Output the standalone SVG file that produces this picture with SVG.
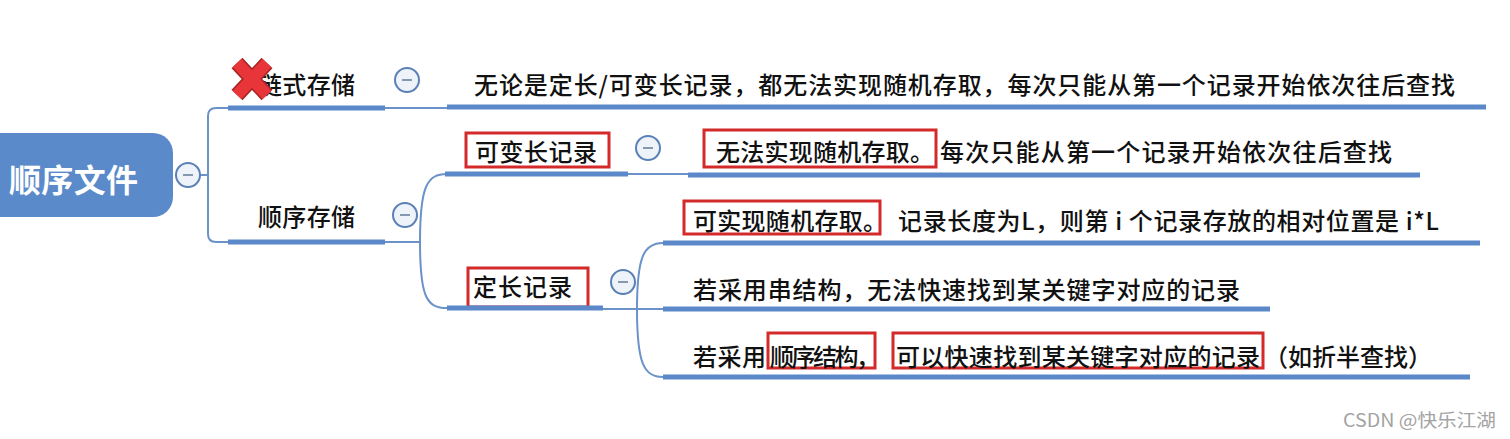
<svg xmlns="http://www.w3.org/2000/svg" width="1510" height="439" viewBox="0 0 1510 439">
<style>
  text { font-family: "Noto Sans CJK SC", "Noto Sans", sans-serif; fill: #111111; dominant-baseline: central; }
  .t24 { font-size: 24px; font-weight: 500; }
  .root-text { font-size: 32px; font-weight: bold; fill: #ffffff; }
  .bar { stroke: #5a88c8; stroke-width: 5; stroke-linecap: butt; fill: none; }
  .thin { stroke: #6b92c9; stroke-width: 2; fill: none; }
  .btn circle { fill: #eef3fa; stroke: #5b80b6; stroke-width: 2; }
  .btn line { stroke: #8797ad; stroke-width: 2; }
  .hl { fill: none; stroke: #d42a2a; stroke-width: 3; }
  .wm { font-size: 18px; fill: #a3a3a3; }
</style>
<rect width="1510" height="439" fill="#ffffff"/>

<g id="connectors">
  <path class="thin" d="M200,175 H208 M208,175 V116 Q208,108 216,108 H228 M208,175 V234 Q208,242 216,242 H228"/>
  <path class="thin" d="M385,108 H447"/>
  <path class="thin" d="M385,242 H420 M420,242 C420,186 427,174 447,174 M420,242 C420,298 427,308 447,308"/>
  <path class="thin" d="M628,174 H688"/>
  <path class="thin" d="M603,309 H663 M637,309 C637,256 644,243 663,243 M637,309 C637,364 644,377 663,377"/>
</g>

<g id="root">
  <rect x="-20" y="133" width="193" height="84" rx="20" fill="#5a8ac9"/>
  <text class="root-text" x="9" y="178" textLength="129">顺序文件</text>
  <g class="btn"><circle cx="188" cy="175" r="12"/><line x1="183" y1="175" x2="193" y2="175"/></g>
</g>

<g id="node-chain">
  <text class="t24" x="258" y="83" textLength="97">链式存储</text>
  <line class="bar" x1="228" y1="108" x2="385" y2="108"/>
  <g class="btn"><circle cx="407" cy="80" r="12"/><line x1="402" y1="80" x2="412" y2="80"/></g>
  <g id="red-x">
    <path d="M237,63 L267,95 M267,63 L237,95" stroke="#a82424" stroke-width="15" fill="none"/>
    <path d="M237,63 L267,95 M267,63 L237,95" stroke="#e8353a" stroke-width="12" fill="none"/>
  </g>
</g>

<g id="leaf-chain">
  <text class="t24" x="474" y="83" textLength="981">无论是定长/可变长记录，都无法实现随机存取，每次只能从第一个记录开始依次往后查找</text>
  <line class="bar" x1="447" y1="107" x2="1486" y2="107"/>
</g>

<g id="node-seq">
  <text class="t24" x="258" y="215" textLength="97">顺序存储</text>
  <line class="bar" x1="228" y1="242" x2="385" y2="242"/>
  <g class="btn"><circle cx="405" cy="215" r="12"/><line x1="400" y1="215" x2="410" y2="215"/></g>
</g>

<g id="node-var">
  <rect class="hl" x="466" y="133" width="143" height="34"/>
  <text class="t24" x="475" y="150" textLength="122">可变长记录</text>
  <line class="bar" x1="445" y1="174" x2="628" y2="174"/>
  <g class="btn"><circle cx="648" cy="148" r="12"/><line x1="643" y1="148" x2="653" y2="148"/></g>
</g>

<g id="leaf-var">
  <rect class="hl" x="704" y="130" width="232" height="37"/>
  <text class="t24" x="716" y="150" textLength="218">无法实现随机存取。</text>
  <text class="t24" x="940" y="150" textLength="452">每次只能从第一个记录开始依次往后查找</text>
  <line class="bar" x1="688" y1="175" x2="1420" y2="175"/>
</g>

<g id="node-fixed">
  <rect class="hl" x="468" y="268" width="120" height="39"/>
  <text class="t24" x="473" y="285" textLength="99">定长记录</text>
  <line class="bar" x1="447" y1="308" x2="603" y2="308"/>
  <g class="btn"><circle cx="623" cy="282" r="12"/><line x1="618" y1="282" x2="628" y2="282"/></g>
</g>

<g id="leaf-fixed-1">
  <rect class="hl" x="684" y="201" width="196" height="33"/>
  <text class="t24" x="693" y="219" textLength="194">可实现随机存取。</text>
  <text class="t24" x="898" y="219" textLength="541">记录长度为L，则第 i 个记录存放的相对位置是 i*L</text>
  <line class="bar" x1="663" y1="243" x2="1480" y2="243"/>
</g>

<g id="leaf-fixed-2">
  <text class="t24" x="693" y="288" textLength="547">若采用串结构，无法快速找到某关键字对应的记录</text>
  <line class="bar" x1="663" y1="309" x2="1270" y2="309"/>
</g>

<g id="leaf-fixed-3">
  <text class="t24" x="693" y="355" textLength="73">若采用</text>
  <rect class="hl" x="768" y="333" width="107" height="35"/>
  <text class="t24" x="770" y="355" textLength="110">顺序结构，</text>
  <rect class="hl" x="893" y="333" width="370" height="35"/>
  <text class="t24" x="896" y="355" textLength="364">可以快速找到某关键字对应的记录</text>
  <text class="t24" x="1264" y="355">（如折半查找）</text>
  <line class="bar" x1="663" y1="377" x2="1470" y2="377"/>
</g>

<text class="wm" x="1343" y="419" textLength="153" lengthAdjust="spacingAndGlyphs">CSDN @快乐江湖</text>
</svg>
